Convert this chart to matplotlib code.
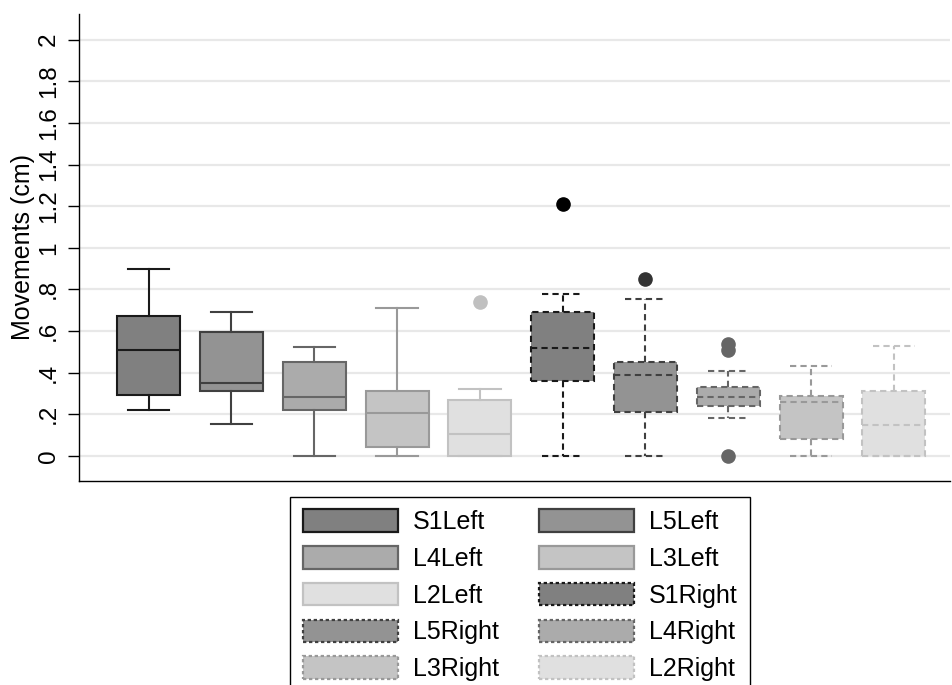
import matplotlib.pyplot as plt
from matplotlib.patches import Patch

plt.rcParams['font.family'] = ['Liberation Sans', 'DejaVu Sans']

# box stats (cm)
names = ['S1Left', 'L5Left', 'L4Left', 'L3Left', 'L2Left',
         'S1Right', 'L5Right', 'L4Right', 'L3Right', 'L2Right']
whislo = [0.22, 0.154, 0.0, 0.0, 0.0, 0.0, 0.0, 0.18, 0.0, 0.0]
q1 = [0.293, 0.31, 0.22, 0.043, 0.0, 0.36, 0.21, 0.24, 0.08, 0.0]
med = [0.51, 0.351, 0.284, 0.207, 0.105, 0.52, 0.39, 0.285, 0.26, 0.15]
q3 = [0.673, 0.596, 0.452, 0.31, 0.27, 0.69, 0.45, 0.33, 0.29, 0.31]
whishi = [0.9, 0.69, 0.524, 0.71, 0.32, 0.78, 0.755, 0.41, 0.43, 0.53]
fliers = [[], [], [], [], [0.74], [1.21], [0.85], [0.54, 0.51, 0.0], [], []]

yticks = [0, 0.2, 0.4, 0.6, 0.8, 1, 1.2, 1.4, 1.6, 1.8, 2]
ytick_labels = ['0', '.2', '.4', '.6', '.8', '1', '1.2', '1.4', '1.6', '1.8', '2']

fills = ['#808080', '#939393', '#ababab', '#c4c4c4', '#e0e0e0'] * 2
edges = ['#1a1a1a', '#404040', '#666666', '#999999', '#c2c2c2'] * 2
dots = ['#000000', '#333333', '#666666', '#999999', '#c0c0c0'] * 2


def main():
    fig = plt.figure(figsize=(9.53, 6.85), dpi=100)
    ax = fig.add_axes([0.083, 0.298, 0.914, 0.682])

    stats = []
    for i in range(len(names)):
        stats.append({'med': med[i], 'q1': q1[i], 'q3': q3[i],
                      'whislo': whislo[i], 'whishi': whishi[i],
                      'fliers': fliers[i], 'label': names[i]})

    for i, st in enumerate(stats):
        ls = '-' if i < 5 else (0, (3, 2))
        ec = edges[i]
        ax.bxp([st], positions=[i + 1], widths=0.76, patch_artist=True,
               showfliers=True, capwidths=[0.5],
               boxprops=dict(facecolor=fills[i], edgecolor=ec, linewidth=1.5, linestyle=ls),
               medianprops=dict(color=ec, linewidth=1.5, linestyle=ls),
               whiskerprops=dict(color=ec, linewidth=1.5, linestyle=ls),
               capprops=dict(color=ec, linewidth=1.5, linestyle=ls),
               flierprops=dict(marker='o', markerfacecolor=dots[i],
                               markeredgecolor=dots[i], markersize=9.5))

    ax.set_xlim(0.16, 10.68)
    ax.set_ylim(-0.12, 2.125)
    ax.set_xticks([])
    ax.set_yticks(yticks)
    ax.set_yticklabels(ytick_labels, rotation=90, va='center', fontsize=17.5)
    ax.tick_params(axis='y', length=8, width=1, direction='out', pad=6)
    ax.set_ylabel('Movements (cm)', fontsize=18, labelpad=2)
    ax.grid(True, axis='y', color='#e8e8e8', linewidth=1.6)
    ax.set_axisbelow(True)
    for s in ['top', 'right']:
        ax.spines[s].set_visible(False)
    for s in ['left', 'bottom']:
        ax.spines[s].set_linewidth(1)

    # legend is filled row by row in the picture, matplotlib goes column by column
    handles = []
    for i in range(len(names)):
        ls = '-' if i < 5 else (0, (1.5, 1.2))
        handles.append(Patch(facecolor=fills[i], edgecolor=edges[i],
                             linewidth=1.6, linestyle=ls, label=names[i]))
    order = [0, 2, 4, 6, 8, 1, 3, 5, 7, 9]
    handles = [handles[k] for k in order]
    leg = fig.legend(handles=handles, ncol=2, loc='upper center',
                     bbox_to_anchor=(0.5457, 0.2745), fontsize=18,
                     fancybox=False, edgecolor='black', framealpha=1,
                     handlelength=3.8, handleheight=1.0, handletextpad=0.6,
                     columnspacing=1.6, labelspacing=0.48, borderpad=0.5,
                     borderaxespad=0)
    leg.get_frame().set_linewidth(1)

    fig.savefig('out.png', dpi=100)


if __name__ == '__main__':
    main()
